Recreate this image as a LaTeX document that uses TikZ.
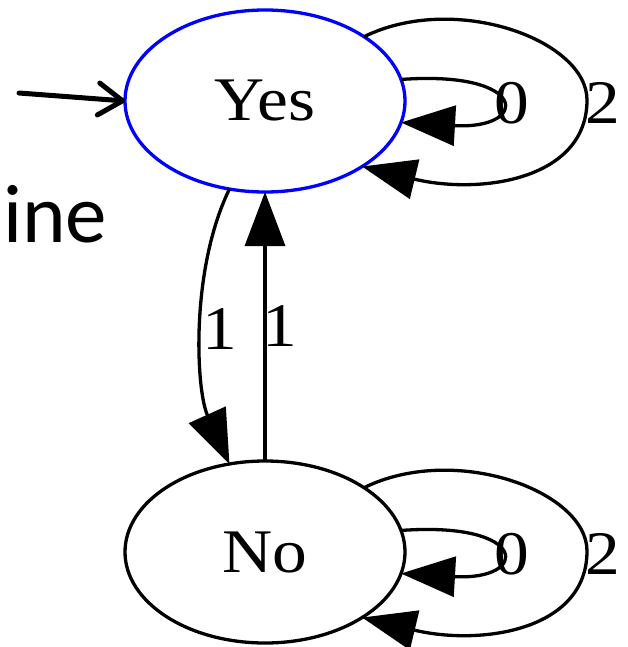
\documentclass[tikz,border=0pt]{standalone}
\usepackage{fontspec}
\setmainfont{Liberation Serif}
\newfontfamily\calib{Carlito}
\usetikzlibrary{arrows.meta,calc,shapes.geometric}
\definecolor{startblue}{RGB}{0,0,255}

\tikzset{
  state/.style={ellipse, draw, line width=3.3pt, minimum width=280pt,
    minimum height=182pt, inner sep=0pt, outer sep=0pt,
    font=\fontsize{62}{62}\selectfont},
  edge/.style={line width=3.3pt, -{Triangle[length=54pt,width=40pt]}},
  lbl/.style={inner sep=0pt, font=\fontsize{62}{62}\selectfont},
}
\newcommand{\wide}[1]{\scalebox{1.12}[1]{#1}}

\begin{document}
\begin{tikzpicture}[x=1pt, y=-1pt]
  \useasboundingbox (0,0) rectangle (628,647);

  % states
  \node[state, draw=startblue] (Yes) at (265,101) {\wide{Yes}};
  \node[state] (No) at (265,552) {\wide{No}};

  % initial arrow
  \coordinate (start) at (19,93);
  \draw[line width=5pt, line cap=round,
        -{Straight Barb[length=24pt,width=32pt,round]}] (start) -- (Yes.west);

  % fragment of text on the left
  \node[anchor=base west, inner sep=0pt, font=\calib\fontsize{83}{83}\selectfont]
    (frag) at (3,242) {ine};

  % transitions between the states
  \draw[edge] (Yes.248) .. controls (190,270) and (196,390) .. (No.112)
    node[pos=0.5, lbl, anchor=center, xshift=18pt] (l1a) {\wide{1}};
  \draw[edge] (No.north) -- (Yes.south)
    node[pos=0.5, lbl, anchor=center, xshift=15pt] (l1b) {\wide{1}};

  % self loops on each state
  \foreach \n in {Yes,No}{
    \draw[edge] (\n.9) .. controls ($(\n.center)+(265,-31)$)
      and ($(\n.center)+(265,29)$) .. (\n.-9);
    \node[lbl] (\n-l0) at ($(\n.center)+(247,2)$) {\wide{0}};
    \draw[edge] (\n.33) .. controls ($(\n.center)+(190,-109)$)
      and ($(\n.center)+(322,-61)$) .. ($(\n.center)+(322,-1)$)
      .. controls ($(\n.center)+(322,79)$) and ($(\n.center)+(215,94)$) .. (\n.-34);
    \node[lbl] (\n-l2) at ($(\n.center)+(338,2)$) {\wide{2}};
  }
\end{tikzpicture}
\end{document}
